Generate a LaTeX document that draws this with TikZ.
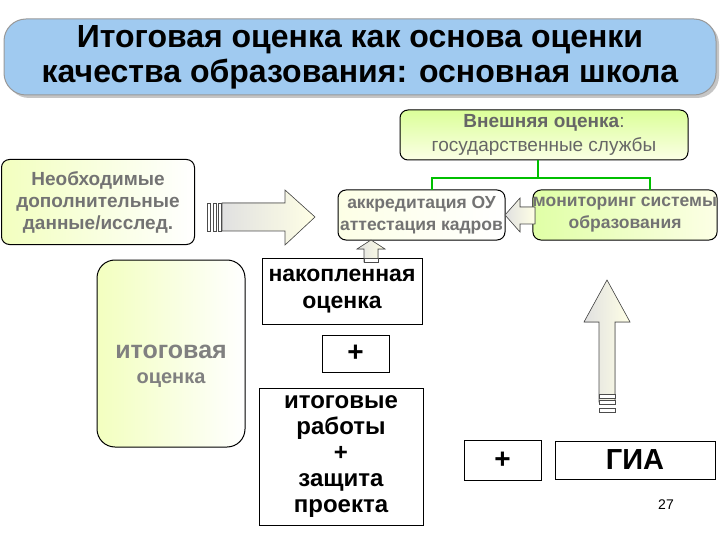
\documentclass[tikz,border=0pt]{standalone}
\usepackage{fontspec}
\setmainfont{Liberation Sans}
\usetikzlibrary{shadows}
\definecolor{tblue}{RGB}{160,202,240}
\begin{document}
\begin{tikzpicture}[x=1pt,y=-1pt,
  rbox/.style={draw=black,line width=1pt,rounded corners=8pt},
  sbox/.style={draw=black,line width=0.8pt,fill=white},
  arr/.style={draw=black!70,line width=0.6pt,left color=black!12,right color=yellow!10}]
\useasboundingbox (0,0) rectangle (720,540);
% title
\node[draw=black!40,line width=1pt,fill=tblue,rounded corners=22pt,minimum width=712pt,minimum height=76pt,
  drop shadow={shadow xshift=3pt,shadow yshift=-3pt,fill=black!45},
  font=\bfseries\fontsize{32}{35}\selectfont,align=center] (title) at (360,57) {Итоговая оценка как основа оценки\\качества образования: основная школа};
% external
\node[rbox,top color=green!35!yellow!40,bottom color=green!15!yellow!10,minimum width=288pt,minimum height=50pt,align=center,font=\fontsize{19}{24}\selectfont,text=black!60,inner sep=0pt] (ext) at (544,135) {\textbf{Внешняя оценка}: \\ государственные службы};
% left box
\node[rbox,left color=green!20!yellow!25,right color=white,minimum width=193pt,minimum height=85pt,align=center,font=\bfseries\fontsize{19}{22}\selectfont,text=black!55,inner sep=0pt] (need) at (98,202) {Необходимые\\дополнительные\\данные/исслед.};
% accred / monitoring
\node[rbox,left color=green!10!yellow!10,right color=white,minimum width=167pt,minimum height=50pt,align=center,font=\bfseries\fontsize{17.5}{22}\selectfont,text=black!55,inner sep=0pt] (acc) at (421.5,215) {аккредитация ОУ\\аттестация кадров};
\node[rbox,left color=green!35!yellow!35,right color=green!10!yellow!10,minimum width=180pt,minimum height=50pt,align=center,font=\bfseries\fontsize{17.5}{22}\selectfont,text=black!55,inner sep=0pt] (mon) at (625,215) {мониторинг системы\\образования};
% connectors
\coordinate (j) at (538,178);
\draw[green!75!black,line width=2pt] (ext.south -| j) -- (j);
\draw[green!75!black,line width=2pt] (432,190) |- (650,178) -- (650,190);
% big arrow
\filldraw[arr] (222,203) -- (285,203) -- (285,190) -- (315,217) -- (285,245) -- (285,231) -- (222,231) -- cycle;
\foreach \x in {207,213,218} \draw[black!70,fill=white,line width=0.6pt] (\x,203) rectangle (\x+3,231);
% small left arrow
\filldraw[arr] (535,207) -- (520,207) -- (520,198) -- (505,215) -- (520,232) -- (520,224) -- (535,224) -- cycle;
% itogovaya
\node[rbox,rounded corners=18pt,left color=green!20!yellow!25,right color=white,minimum width=148pt,minimum height=187pt] (itog) at (171,353.5) {};
\node[font=\bfseries\fontsize{25}{28}\selectfont,text=black!50] (itl1) at (171,352) {итоговая};
\node[font=\bfseries\fontsize{20}{24}\selectfont,text=black!50] (itl2) at (171,380) {оценка};
% center boxes
\node[sbox,minimum width=160pt,minimum height=66pt,align=center,font=\bfseries\fontsize{23}{27}\selectfont,inner sep=0pt] (nak) at (342,291) {накопленная\\оценка};
\node[sbox,minimum width=67pt,minimum height=37pt,font=\bfseries\fontsize{28}{30}\selectfont,inner sep=0pt] (p1) at (355.5,353.5) {+};
\node[sbox,minimum width=164pt,minimum height=137pt,align=center,font=\bfseries\fontsize{24}{26}\selectfont,inner sep=0pt] (itw) at (341,456.5) {итоговые\\работы\\+\\защита\\проекта};
\node[sbox,minimum width=77pt,minimum height=40pt,font=\bfseries\fontsize{28}{30}\selectfont,inner sep=0pt] (p2) at (502.5,460) {+};
\node[sbox,minimum width=160pt,minimum height=38pt,font=\bfseries\fontsize{29}{30}\selectfont,inner sep=0pt] (gia) at (635,460) {ГИА};
\node[font=\fontsize{14}{15}\selectfont] (num) at (666,505) {27};
% small up arrow
\filldraw[arr] (364,262) -- (364,249) -- (357,249) -- (371,240) -- (385,249) -- (378,249) -- (378,262) -- cycle;
\draw[black!70,fill=white,line width=0.6pt] (364,258) rectangle (378,262);
% vertical arrow
\filldraw[arr] (599,402) -- (599,322) -- (584,322) -- (607,280) -- (630,322) -- (615,322) -- (615,402) -- cycle;
\foreach \y in {394,400,408} \draw[black!70,fill=white,line width=0.6pt] (599,\y) rectangle (615,\y+4);
\end{tikzpicture}
\end{document}
